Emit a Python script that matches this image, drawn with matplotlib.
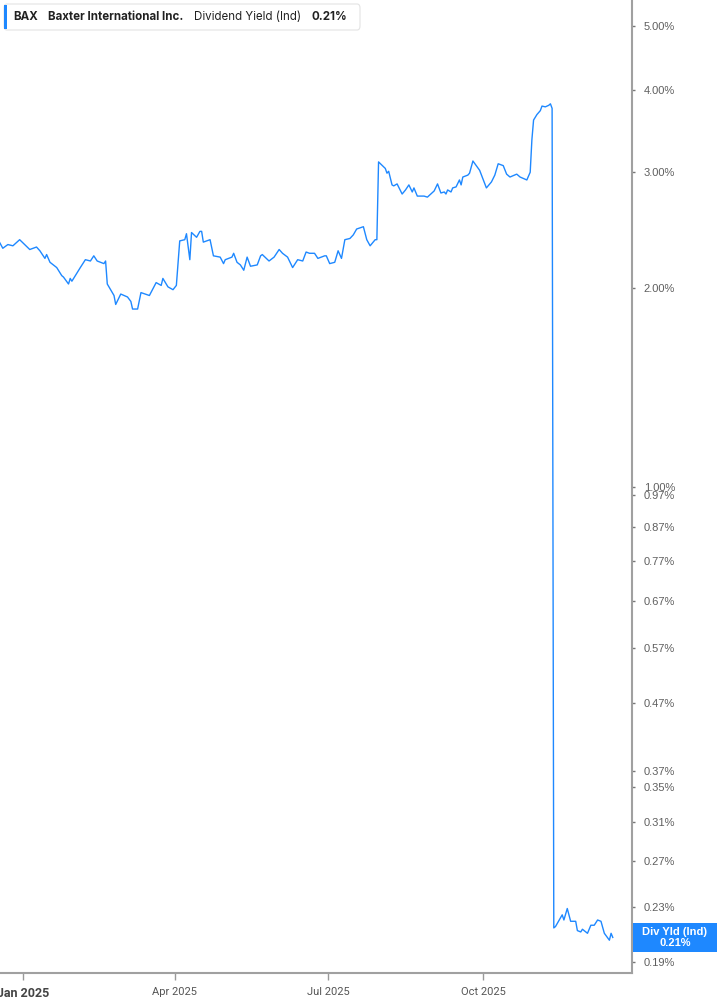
import matplotlib
matplotlib.use('Agg')
import matplotlib.pyplot as plt
import matplotlib.dates as mdates
from matplotlib.patches import Rectangle, FancyBboxPatch
from matplotlib.ticker import NullLocator
import pandas as pd

# BAX dividend yield (%); days counted from 2025-01-01
days_from_jan1 = [
    -14, -12, -9, -6, -2, 1, 4, 8, 10, 13,
    14, 16, 20, 23, 24, 27, 28, 29, 34, 37,
    40, 42, 44, 48, 49, 50, 54, 55, 58, 62,
    64, 65, 68, 70, 75, 79, 82, 83, 86, 89,
    91, 93, 96, 97, 99, 100, 103, 105, 106, 107,
    111, 113, 117, 119, 120, 124, 125, 127, 129, 131,
    133, 135, 139, 141, 142, 146, 149, 152, 154, 157,
    160, 163, 166, 168, 170, 173, 175, 179, 180, 182,
    185, 187, 189, 191, 194, 196, 198, 202, 204, 206,
    209, 210, 211, 215, 216, 217, 219, 220, 222, 225,
    227, 229, 231, 232, 234, 238, 240, 242, 244, 246,
    248, 250, 251, 252, 254, 255, 257, 259, 260, 261,
    264, 265, 267, 269, 271, 273, 275, 278, 280, 282,
    285, 287, 289, 293, 295, 299, 301, 302, 303, 305,
    307, 308, 310, 312, 313, 314, 315, 316, 320, 321,
    323, 325, 327, 328, 329, 331, 332, 335, 337, 339,
    341, 343, 345, 348, 349, 350]
div_yield = [
    2.35, 2.30, 2.33, 2.32, 2.37, 2.33, 2.29, 2.31, 2.28, 2.22,
    2.25, 2.19, 2.15, 2.09, 2.08, 2.03, 2.07, 2.05, 2.15, 2.21,
    2.20, 2.24, 2.20, 2.18, 2.20, 2.03, 1.95, 1.89, 1.96, 1.94,
    1.91, 1.86, 1.86, 1.97, 1.95, 2.04, 2.02, 2.07, 2.01, 1.99,
    2.02, 2.36, 2.37, 2.42, 2.21, 2.43, 2.39, 2.44, 2.44, 2.35,
    2.37, 2.24, 2.23, 2.18, 2.21, 2.23, 2.26, 2.19, 2.17, 2.13,
    2.23, 2.16, 2.17, 2.24, 2.25, 2.20, 2.23, 2.29, 2.26, 2.23,
    2.15, 2.21, 2.20, 2.27, 2.26, 2.26, 2.22, 2.24, 2.24, 2.18,
    2.19, 2.28, 2.22, 2.37, 2.38, 2.41, 2.46, 2.48, 2.37, 2.32,
    2.37, 2.37, 3.11, 3.04, 2.99, 3.01, 2.87, 2.86, 2.88, 2.78,
    2.82, 2.87, 2.80, 2.84, 2.76, 2.76, 2.75, 2.78, 2.81, 2.88,
    2.79, 2.80, 2.78, 2.82, 2.80, 2.84, 2.85, 2.92, 2.87, 2.95,
    2.97, 2.99, 3.12, 3.07, 3.02, 2.93, 2.84, 2.90, 2.97, 3.09,
    3.07, 2.98, 2.95, 2.98, 2.95, 2.92, 3.00, 3.36, 3.60, 3.67,
    3.72, 3.78, 3.77, 3.79, 3.81, 3.75, 0.214, 0.215, 0.224, 0.220,
    0.229, 0.219, 0.219, 0.219, 0.212, 0.211, 0.213, 0.210, 0.216, 0.216,
    0.220, 0.219, 0.210, 0.205, 0.210, 0.207]

ytick_vals = [5.00, 4.00, 3.00, 2.00, 1.00, 0.97, 0.87, 0.77, 0.67, 0.57,
              0.47, 0.37, 0.35, 0.31, 0.27, 0.23, 0.19]
xtick_dates = ['2025-01-01', '2025-04-01', '2025-07-01', '2025-10-01']
xtick_labels = ['Jan 2025', 'Apr 2025', 'Jul 2025', 'Oct 2025']

BLUE = '#1E88FF'
W, H = 717, 1005

fig = plt.figure(figsize=(W / 100, H / 100), dpi=100)
ax = fig.add_axes([0, 1 - 973 / H, 632 / W, 973 / H])

dates = pd.Timestamp('2025-01-01') + pd.to_timedelta(days_from_jan1, unit='D')
ax.plot(dates, div_yield, color=BLUE, lw=1.0)

ax.set_yscale('log')
ax.set_ylim(0.1828, 5.476)
ax.set_xlim(pd.Timestamp('2024-12-18 08:00'), pd.Timestamp('2025-12-28 10:00'))

# right-hand y axis
ax.yaxis.tick_right()
ax.yaxis.set_minor_locator(NullLocator())
ax.set_yticks(ytick_vals)
ax.set_yticklabels([f'{v:.2f}%' for v in ytick_vals])
ax.tick_params(axis='y', direction='out', length=2.5, width=1, color='#777777',
               pad=6, labelsize=8, labelcolor='#5f5f5f')
for lab in ax.get_yticklabels():
    lab.set_fontfamily('Liberation Sans')

# x axis
ax.set_xticks(pd.to_datetime(xtick_dates))
ax.set_xticklabels(xtick_labels)
ax.xaxis.set_minor_locator(NullLocator())
ax.tick_params(axis='x', direction='out', length=5, width=1, color='#999999',
               pad=5, labelsize=8, labelcolor='#555555')
for i, lab in enumerate(ax.get_xticklabels()):
    lab.set_fontfamily('Roboto')
    if i == 0:
        lab.set_fontweight('bold')
        lab.set_fontsize(9)
        lab.set_color('#444444')

for s in ['left', 'top']:
    ax.spines[s].set_visible(False)
for s in ['right', 'bottom']:
    ax.spines[s].set_color('#a0a0a0')
    ax.spines[s].set_linewidth(1.5)


def fpx(x, y):
    return x / W, 1 - y / H


# header box
fig.add_artist(FancyBboxPatch(fpx(4, 30), 356 / W, 26 / H,
                              boxstyle='round,pad=0,rounding_size=0.004',
                              transform=fig.transFigure, fc='white',
                              ec='#e3e3e3', lw=0.8))
fig.add_artist(Rectangle(fpx(4, 29), 3 / W, 24 / H, transform=fig.transFigure,
                         color=BLUE, lw=0))
hdr = [(13, 'BAX', 'bold'), (48, 'Baxter International Inc.', 'bold'),
       (194, 'Dividend Yield (Ind)', 'normal'), (311, f'{div_yield[-1]:.2f}%', 'bold')]
for x, t, w in hdr:
    fig.text(*fpx(x, 17), t, fontsize=8.3, fontweight=w, family='Inter',
             color='#222222', va='center', ha='left')

# last value tag on the axis
last_y = ax.transData.transform((mdates.date2num(dates[-1]), div_yield[-1]))[1]
fig.add_artist(Rectangle((633 / W, (last_y - 14.5) / H), 84 / W, 29 / H,
                         transform=fig.transFigure, color=BLUE, lw=0))
fig.text(675 / W, (last_y + 5.5) / H, 'Div Yld (Ind)', fontsize=8, fontweight='bold',
         family='Liberation Sans', color='white', ha='center', va='center')
fig.text(675 / W, (last_y - 5.5) / H, f'{div_yield[-1]:.2f}%', fontsize=8,
         fontweight='bold', family='Liberation Sans', color='white',
         ha='center', va='center')

fig.savefig('out.png', dpi=100)
